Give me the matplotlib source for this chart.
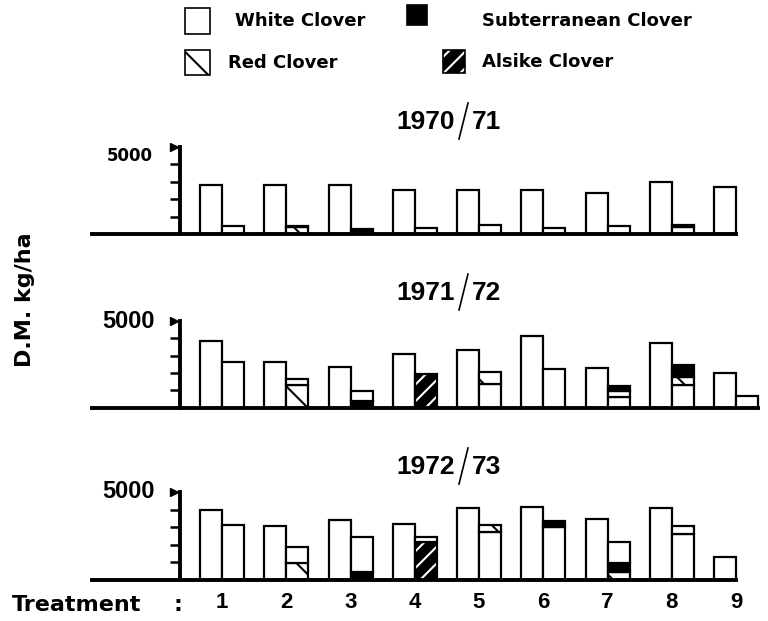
import numpy as np
import matplotlib
matplotlib.use('Agg')
from matplotlib import pyplot as plt
from matplotlib.patches import Rectangle
from matplotlib.lines import Line2D


W, H = 768, 621

YEARS = ['1970/71', '1971/72', '1972/73']
TREATMENTS = ['1', '2', '3', '4', '5', '6', '7', '8', '9']
SPECIES_LABELS = {'white': 'White Clover', 'subt': 'Subterranean Clover',
                  'red': 'Red Clover', 'alsike': 'Alsike Clover'}

# first bar of each pair: white clover, D.M. kg/ha
LEFT_7071 = [2800, 2840, 2800, 2510, 2510, 2510, 2330, 2990, 2700]
LEFT_7172 = [3840, 2630, 2340, 3110, 3340, 4110, 2290, 3750, 2020]
LEFT_7273 = [3980, 3070, 3410, 3160, 4070, 4160, 3450, 4070, 1320]

# second bar of each pair: stacked segments from the bottom up
RIGHT_7071 = [[('white', 470)], [('red', 380), ('white', 100)], [('subt', 310)],
              [('white', 340)], [('white', 500)], [('white', 370)],
              [('white', 470)], [('white', 380), ('subt', 140)], []]
RIGHT_7172 = [[('white', 2630)], [('red', 1300), ('white', 330)],
              [('subt', 380), ('white', 570)], [('alsike', 1920)],
              [('white', 1350), ('red', 680)], [('white', 2250)],
              [('red', 600), ('white', 380), ('subt', 290)],
              [('white', 1300), ('red', 480), ('subt', 670)], [('white', 680)]]
RIGHT_7273 = [[('white', 3130)], [('red', 950), ('white', 910)],
              [('subt', 470), ('white', 1960)], [('alsike', 2180), ('white', 280)],
              [('white', 2750), ('red', 380)], [('white', 3030), ('subt', 320)],
              [('red', 470), ('subt', 510), ('white', 1200)],
              [('white', 2590), ('red', 480)], []]

STYLE = {
    'white': dict(facecolor='white', edgecolor='white', hatch=None),
    'subt': dict(facecolor='black', edgecolor='black', hatch=None),
    'red': dict(facecolor='white', edgecolor='black', hatch='\\'),
    'alsike': dict(facecolor='black', edgecolor='white', hatch='//'),
}

NUMFONT = ['Liberation Sans', 'DejaVu Sans']

# panel layout in pixels: (baseline, level of 5000)
PANELS = [(234, 147), (407.5, 321), (580, 492)]
TITLE_Y = [122, 293, 467]
AX_LEFT, AX_RIGHT = 92, 762
PX_PER_UNIT = 64.25
FIRST_CENTER = 222
BAR_W = 22 / PX_PER_UNIT

plt.rcParams['hatch.linewidth'] = 1.5


def fx(px):
    return px / W


def fy(py):
    return 1 - py / H


def draw_segment(ax, x, bottom, height, kind):
    st = STYLE[kind]
    ax.bar(x, height, BAR_W, bottom=bottom, facecolor=st['facecolor'],
           edgecolor=st['edgecolor'], hatch=st['hatch'], linewidth=0)
    ax.bar(x, height, BAR_W, bottom=bottom, facecolor='none',
           edgecolor='black', linewidth=1.6)


def draw_title(fig, text, yc):
    a, b = text.split('/')
    fig.text(fx(455), fy(yc), a, ha='right', va='center', fontsize=19,
             fontweight='bold', family=NUMFONT)
    fig.text(fx(472), fy(yc), b, ha='left', va='center', fontsize=19,
             fontweight='bold', family=NUMFONT)
    fig.add_artist(Line2D([fx(468), fx(459)], [fy(yc - 19), fy(yc + 17)],
                          color='black', linewidth=1.2))


fig = plt.figure(figsize=(W / 100, H / 100), dpi=100)

lefts = [LEFT_7071, LEFT_7172, LEFT_7273]
rights = [RIGHT_7071, RIGHT_7172, RIGHT_7273]
x = np.arange(1, len(TREATMENTS) + 1)
xmin = 1 - (FIRST_CENTER - AX_LEFT) / PX_PER_UNIT
xmax = xmin + (AX_RIGHT - AX_LEFT) / PX_PER_UNIT
spine_x = 1 - (FIRST_CENTER - 180) / PX_PER_UNIT

axes = []
for i, (base, top) in enumerate(PANELS):
    ax = fig.add_axes([fx(AX_LEFT), fy(base), (AX_RIGHT - AX_LEFT) / W, (base - top) / H])
    axes.append(ax)
    ax.set_xlim(xmin, xmax)
    ax.set_ylim(0, 5000)

    last = xmin
    for j, t in enumerate(x):
        xl = t - BAR_W / 2
        xr = t + BAR_W / 2
        draw_segment(ax, xl, 0, lefts[i][j], 'white')
        last = max(last, xl + BAR_W / 2)
        b = 0
        for kind, val in rights[i][j]:
            draw_segment(ax, xr, b, val, kind)
            b += val
        if b > 0:
            last = max(last, xr + BAR_W / 2)

    for s in ['top', 'right']:
        ax.spines[s].set_visible(False)
    ax.spines['bottom'].set_linewidth(2.8)
    ax.spines['bottom'].set_bounds(xmin, last)
    ax.spines['left'].set_position(('data', spine_x))
    ax.spines['left'].set_linewidth(2.8)
    ax.spines['left'].set_bounds(0, 5000)
    ax.set_yticks([1000, 2000, 3000, 4000])
    ax.set_yticklabels([])
    ax.tick_params(axis='y', direction='out', length=7, width=1.8)
    ax.plot([spine_x - 0.1], [5000], marker='>', color='black', markersize=6,
            clip_on=False)
    if i == 0:
        ax.text(spine_x - 0.42, 5000, '5000', ha='right', va='top',
                fontsize=12, fontweight='bold')
    else:
        ax.text(spine_x - 0.39, 5000, '5000', ha='right', va='center',
                fontsize=17, fontweight='bold', family=NUMFONT)
    ax.set_xticks([])
    draw_title(fig, YEARS[i], TITLE_Y[i])

axes[-1].set_xticks(x)
axes[-1].set_xticklabels(TREATMENTS, fontsize=16, fontweight='bold', family=NUMFONT)
axes[-1].tick_params(axis='x', length=0, pad=9)

fig.text(fx(12), fy(605), 'Treatment', ha='left', va='center', fontsize=16,
         fontweight='bold')
fig.text(fx(178), fy(605), ':', ha='center', va='center', fontsize=16,
         fontweight='bold')
fig.text(fx(25), fy(300), 'D.M. kg/ha', ha='center', va='center', rotation=90,
         fontsize=16, fontweight='bold')

# legend at the top
legend_boxes = [('white', 185, 8, 25, 26), ('subt', 407, 5, 20, 20),
                ('red', 185, 50, 25, 25), ('alsike', 443, 50, 22, 23)]
legend_text = [('white', 235, 21), ('subt', 482, 21), ('red', 228, 63), ('alsike', 482, 62)]
for kind, px, py, pw, ph in legend_boxes:
    st = STYLE[kind]
    fig.add_artist(Rectangle((fx(px), fy(py + ph)), pw / W, ph / H,
                             facecolor=st['facecolor'], edgecolor=st['edgecolor'],
                             hatch=st['hatch'], linewidth=0))
    fig.add_artist(Rectangle((fx(px), fy(py + ph)), pw / W, ph / H,
                             facecolor='none', edgecolor='black', linewidth=1.2))
for kind, px, py in legend_text:
    fig.text(fx(px), fy(py), SPECIES_LABELS[kind], ha='left', va='center',
             fontsize=13, fontweight='bold')

fig.savefig('out.png', dpi=100)
